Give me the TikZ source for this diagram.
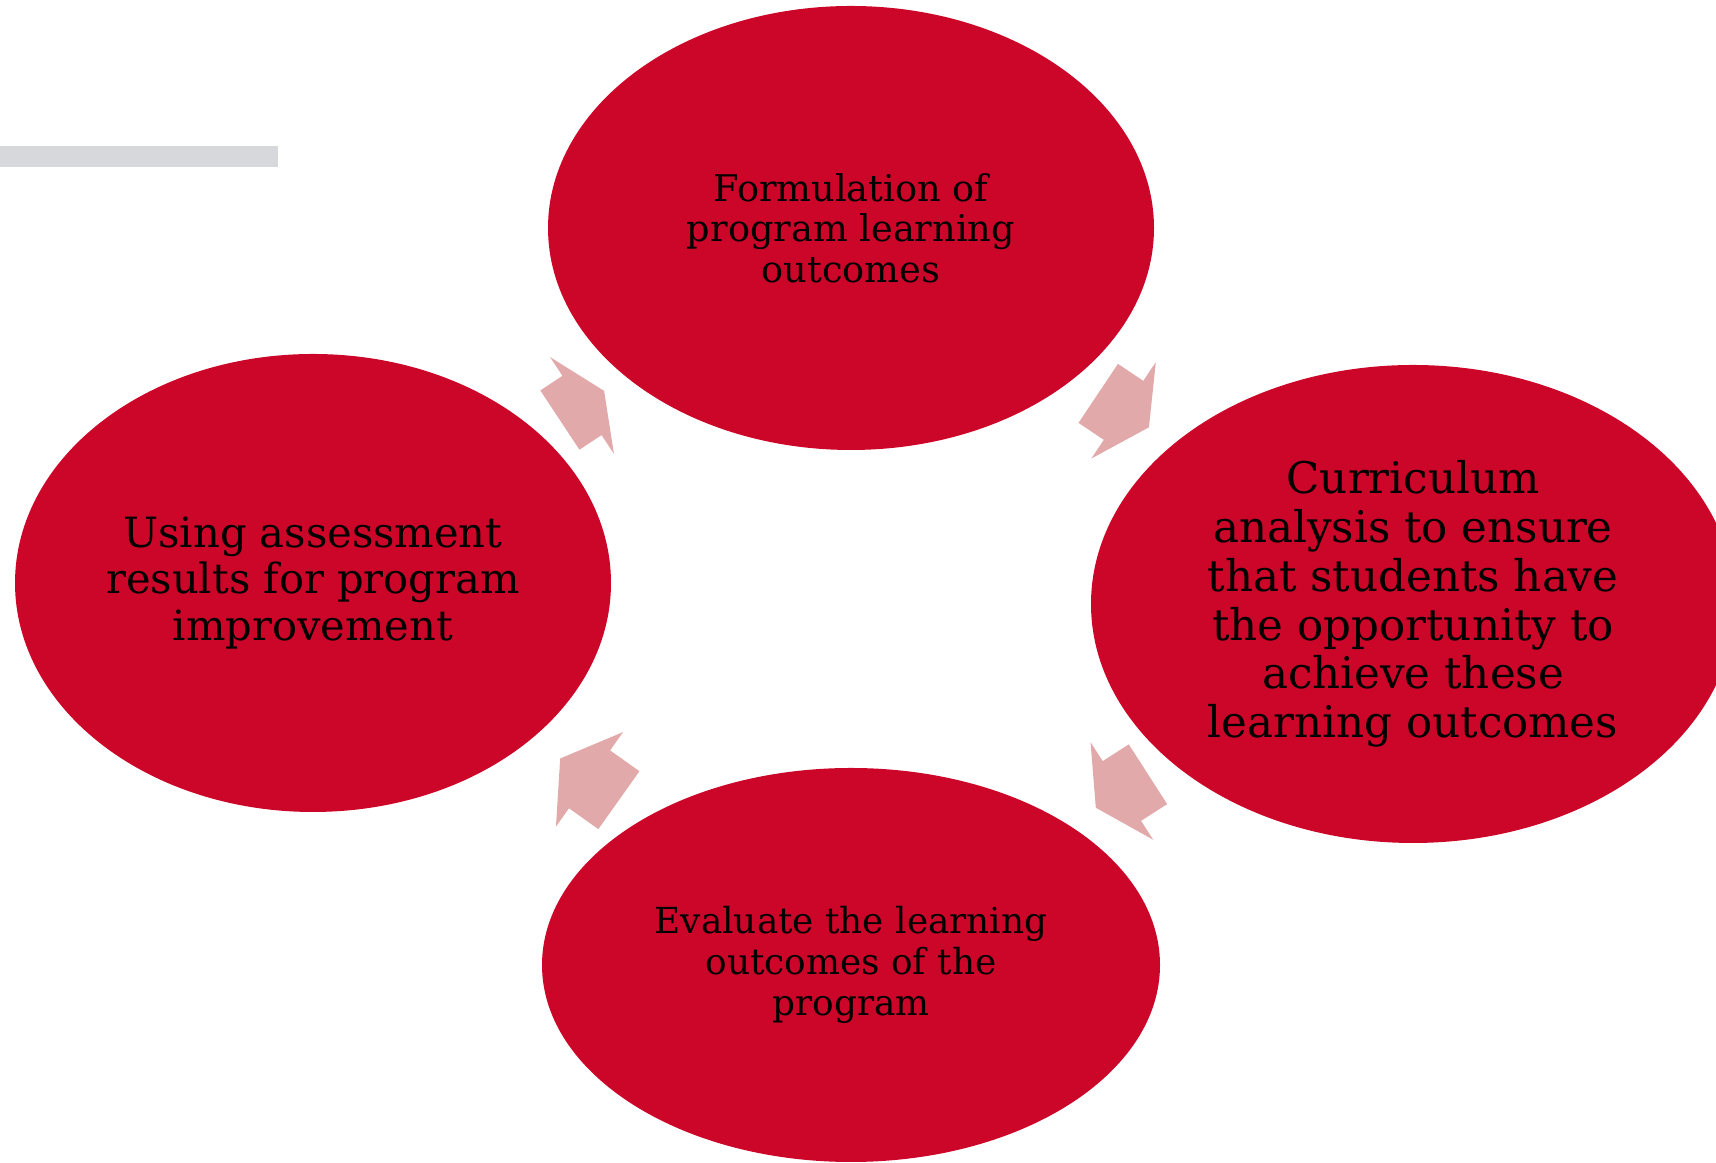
\documentclass[tikz,border=0pt]{standalone}
\usepackage{fontspec}
\setmainfont{DejaVu Serif}
\usetikzlibrary{shapes.geometric}

\definecolor{stagered}{RGB}{204,6,41}
\definecolor{arrowpink}{RGB}{226,169,171}
\definecolor{bargray}{RGB}{215,216,220}

\tikzset{
	stage/.style={ellipse, fill=stagered, text=black, align=center, inner sep=0pt},
	% block arrow pointing along the path, #1 is its length
	pics/cyclearrow/.style={code={
		\fill[arrowpink] (-#1/2,-35.5) -- (0,-35.5) -- (0,-58) -- (#1/2,0)
			-- (0,58) -- (0,35.5) -- (-#1/2,35.5) -- cycle;
	}},
	pics/cyclearrow/.default=62
}

\begin{document}
\begin{tikzpicture}[x=0.1mm, y=0.1mm]
				\clip (0,0) rectangle (1716,1163);
				\fill[bargray] (0,996) rectangle (278,1017);
				\node[stage, minimum width=60.6mm, minimum height=44.4mm,
					font=\fontsize{10.45}{11.5}\selectfont] (form) at (851,935)
					{Formulation of\\program learning\\outcomes};
				\node[stage, minimum width=64.4mm, minimum height=47.8mm,
					font=\fontsize{12.4}{13.9}\selectfont] (curr) at (1413,559)
					{Curriculum\\analysis to ensure\\that students have\\the opportunity to\\achieve these\\learning outcomes};
				\node[stage, minimum width=61.8mm, minimum height=39.4mm,
					font=\fontsize{10.2}{11.6}\selectfont] (eval) at (851,198)
					{Evaluate the learning\\outcomes of the\\program};
				\node[stage, minimum width=59.6mm, minimum height=45.8mm,
					font=\fontsize{11.85}{13.1}\selectfont] (impr) at (313,580)
					{Using assessment\\results for program\\improvement};
				% arrows between the stages, clockwise
				\path (impr.center) -- pic[sloped, pos=0.5] {cyclearrow=53} (form.center);
				\path (form.center) -- pic[sloped, pos=0.485] {cyclearrow=61} (curr.center);
				\path (curr.center) -- pic[sloped, allow upside down, pos=0.518] {cyclearrow=62} (eval.center);
				\path (eval.center) -- pic[sloped, allow upside down, pos=0.486] {cyclearrow=72} (impr.center);
			\end{tikzpicture}
\end{document}
